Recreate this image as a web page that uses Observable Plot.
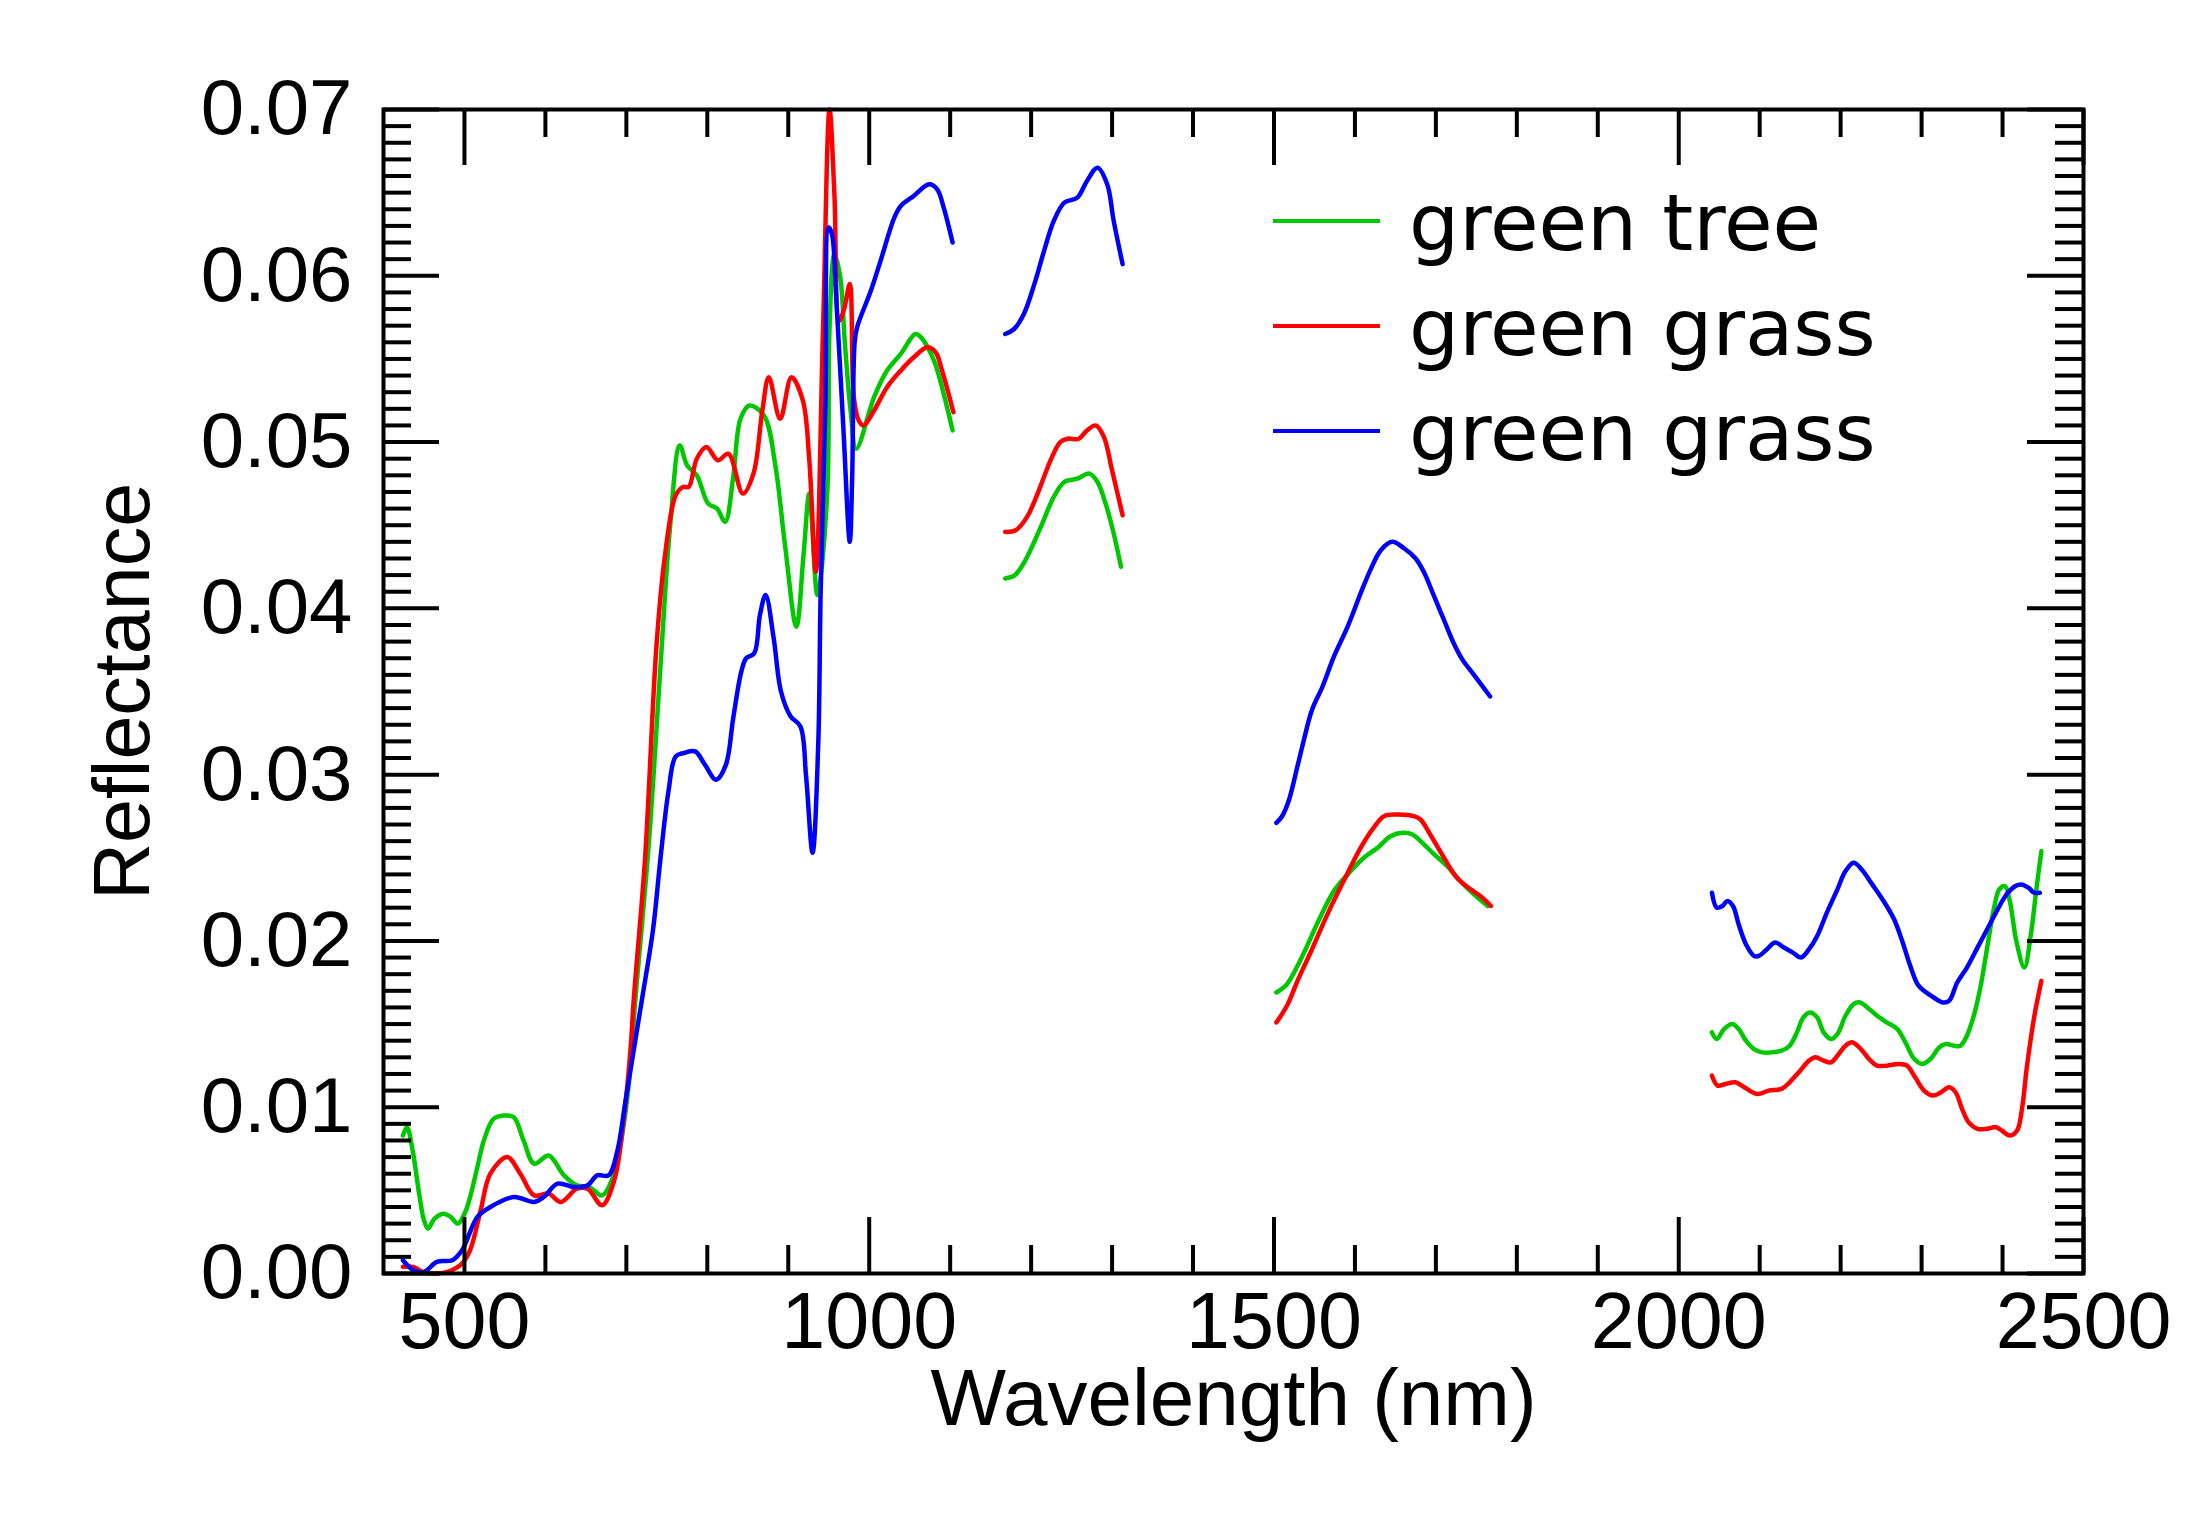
<!DOCTYPE html>
<html>
<head>
<meta charset="utf-8">
<script src="https://cdn.jsdelivr.net/npm/d3@7"></script>
<script src="https://cdn.jsdelivr.net/npm/@observablehq/plot@0.6"></script>
<style>
  html, body { margin: 0; padding: 0; background: #fff; }
  #chart { position: relative; width: 2204px; height: 1515px; }
  #chart svg.legend { position: absolute; left: 0; top: 0; pointer-events: none; }
</style>
</head>
<body>
<div id="chart"></div>
<script>
// Reflectance spectra, [wavelength nm, reflectance]; null marks a water-absorption gap.
const greenTree = [
  [424,0.0083],[429,0.0088],[436,0.0074],[444,0.0048],[450,0.0032],[455,0.0027],[463,0.0033],[474,0.0036],
  [483,0.0034],[492,0.0030],[501,0.0037],[507,0.0046],[516,0.0064],[524,0.0080],[536,0.0093],[549,0.0095],
  [561,0.0094],[573,0.0080],[586,0.0066],[604,0.0071],[623,0.0059],[639,0.0053],[654,0.0052],[670,0.0047],
  [685,0.0060],[695,0.0084],[703,0.0114],[711,0.0164],[728,0.0260],[742,0.0364],[754,0.0449],[766,0.0498],
  [775,0.0486],[787,0.0480],[801,0.0463],[812,0.0460],[822,0.0452],[832,0.0479],[841,0.0514],[852,0.0522],
  [870,0.0516],[884,0.0486],[896,0.0438],[910,0.0389],[919,0.0433],[926,0.0469],[936,0.0408],[948,0.0468],
  [951,0.0569],[957,0.0613],[964,0.0600],[970,0.0559],[977,0.0519],[984,0.0496],[1006,0.0527],[1022,0.0543],
  [1039,0.0553],[1057,0.0565],[1064,0.0563],[1080,0.0549],[1092,0.0529],[1103,0.0507],
  null,
  [1168,0.0418],[1180,0.0420],[1193,0.0429],[1212,0.0449],[1228,0.0467],[1241,0.0476],[1257,0.0478],
  [1272,0.0481],[1282,0.0476],[1292,0.0463],[1302,0.0445],[1311,0.0425],
  null,
  [1503,0.0169],[1516,0.0174],[1528,0.0184],[1539,0.0195],[1553,0.0210],[1574,0.0230],[1591,0.0240],
  [1611,0.0250],[1628,0.0256],[1644,0.0263],[1659,0.0265],[1671,0.0264],[1681,0.0260],[1698,0.0252],
  [1714,0.0245],[1730,0.0236],[1747,0.0228],[1764,0.0221],
  null,
  [2041,0.0145],[2047,0.0141],[2056,0.0147],[2066,0.0150],[2074,0.0147],[2083,0.0140],[2093,0.0135],
  [2103,0.0133],[2115,0.0133],[2127,0.0134],[2137,0.0137],[2146,0.0145],[2154,0.0154],[2162,0.0157],
  [2171,0.0154],[2179,0.0145],[2188,0.0141],[2196,0.0144],[2206,0.0155],[2216,0.0162],[2224,0.0163],
  [2233,0.0160],[2245,0.0155],[2257,0.0151],[2270,0.0147],[2280,0.0139],[2291,0.0129],[2301,0.0126],
  [2311,0.0129],[2322,0.0136],[2330,0.0138],[2340,0.0137],[2348,0.0137],[2356,0.0143],[2365,0.0156],
  [2373,0.0173],[2381,0.0196],[2390,0.0221],[2396,0.0231],[2403,0.0233],[2409,0.0224],[2417,0.0200],
  [2427,0.0184],[2435,0.0204],[2442,0.0232],[2448,0.0254]
];

const greenGrassA = [
  [424,0.0004],[437,0.0004],[448,0.0001],[462,0.0000],[479,0.0001],[497,0.0006],[507,0.0014],[520,0.0038],
  [532,0.0060],[553,0.0070],[569,0.0060],[586,0.0047],[604,0.0048],[619,0.0043],[639,0.0051],[652,0.0051],
  [670,0.0041],[685,0.0056],[697,0.0094],[705,0.0134],[709,0.0164],[723,0.0249],[737,0.0376],[747,0.0429],
  [761,0.0468],[770,0.0473],[777,0.0473],[787,0.0490],[799,0.0497],[813,0.0489],[826,0.0493],[844,0.0469],
  [857,0.0481],[868,0.0519],[876,0.0539],[890,0.0514],[904,0.0539],[918,0.0525],[926,0.0489],[934,0.0422],
  [943,0.0569],[951,0.0700],[957,0.0649],[963,0.0573],[969,0.0580],[976,0.0595],[981,0.0527],[987,0.0513],
  [993,0.0510],[1006,0.0519],[1022,0.0533],[1039,0.0543],[1055,0.0551],[1072,0.0557],[1082,0.0554],
  [1090,0.0543],[1104,0.0518],
  null,
  [1168,0.0446],[1181,0.0447],[1195,0.0455],[1208,0.0469],[1224,0.0489],[1236,0.0500],[1245,0.0502],
  [1259,0.0502],[1269,0.0507],[1280,0.0510],[1290,0.0503],[1300,0.0483],[1313,0.0456],
  null,
  [1503,0.0151],[1516,0.0161],[1530,0.0177],[1547,0.0195],[1566,0.0216],[1586,0.0236],[1607,0.0256],
  [1623,0.0268],[1636,0.0275],[1652,0.0276],[1673,0.0275],[1681,0.0273],[1693,0.0264],[1710,0.0250],
  [1726,0.0238],[1743,0.0231],[1755,0.0227],[1768,0.0221],
  null,
  [2041,0.0119],[2048,0.0113],[2058,0.0114],[2070,0.0115],[2081,0.0112],[2097,0.0108],[2111,0.0110],
  [2127,0.0111],[2137,0.0115],[2150,0.0122],[2161,0.0128],[2169,0.0130],[2179,0.0128],[2188,0.0127],
  [2196,0.0131],[2206,0.0137],[2214,0.0139],[2225,0.0135],[2235,0.0129],[2245,0.0125],[2257,0.0125],
  [2272,0.0126],[2282,0.0125],[2292,0.0118],[2303,0.0110],[2314,0.0107],[2324,0.0109],[2334,0.0112],
  [2342,0.0109],[2350,0.0099],[2358,0.0091],[2369,0.0087],[2381,0.0087],[2392,0.0088],[2399,0.0086],
  [2409,0.0083],[2418,0.0086],[2424,0.0099],[2430,0.0124],[2439,0.0154],[2448,0.0176]
];

const greenGrassB = [
  [424,0.0008],[437,0.0002],[450,0.0001],[466,0.0007],[485,0.0008],[497,0.0014],[516,0.0034],[532,0.0040],
  [561,0.0046],[586,0.0043],[598,0.0046],[615,0.0054],[635,0.0052],[652,0.0053],[664,0.0059],[678,0.0059],
  [689,0.0074],[699,0.0104],[709,0.0134],[719,0.0164],[733,0.0207],[742,0.0249],[752,0.0290],[761,0.0311],
  [771,0.0313],[785,0.0314],[797,0.0306],[811,0.0297],[823,0.0306],[832,0.0334],[842,0.0362],[848,0.0370],
  [858,0.0373],[865,0.0396],[872,0.0408],[882,0.0382],[891,0.0350],[903,0.0335],[915,0.0329],[922,0.0299],
  [930,0.0253],[937,0.0318],[940,0.0410],[946,0.0525],[950,0.0629],[954,0.0625],[959,0.0589],[968,0.0509],
  [976,0.0440],[979,0.0480],[982,0.0560],[985,0.0569],[1002,0.0591],[1014,0.0609],[1031,0.0635],
  [1039,0.0642],[1055,0.0648],[1074,0.0655],[1084,0.0652],[1092,0.0641],[1103,0.0620],
  null,
  [1168,0.0565],[1179,0.0568],[1191,0.0577],[1204,0.0595],[1216,0.0615],[1228,0.0633],[1241,0.0644],
  [1257,0.0647],[1269,0.0657],[1282,0.0665],[1294,0.0655],[1302,0.0633],[1313,0.0607],
  null,
  [1503,0.0271],[1510,0.0275],[1518,0.0284],[1529,0.0305],[1537,0.0321],[1547,0.0339],[1560,0.0353],
  [1574,0.0371],[1591,0.0389],[1607,0.0409],[1619,0.0423],[1632,0.0435],[1646,0.0440],[1661,0.0436],
  [1675,0.0430],[1685,0.0422],[1698,0.0407],[1710,0.0393],[1722,0.0379],[1733,0.0369],[1747,0.0360],
  [1767,0.0347],
  null,
  [2041,0.0229],[2047,0.0220],[2054,0.0221],[2060,0.0224],[2067,0.0221],[2074,0.0210],[2083,0.0198],
  [2093,0.0191],[2099,0.0191],[2109,0.0195],[2119,0.0199],[2130,0.0196],[2141,0.0193],[2151,0.0190],
  [2161,0.0195],[2171,0.0203],[2183,0.0217],[2196,0.0231],[2206,0.0242],[2216,0.0247],[2226,0.0243],
  [2239,0.0234],[2253,0.0224],[2266,0.0213],[2276,0.0200],[2286,0.0185],[2295,0.0174],[2303,0.0170],
  [2315,0.0166],[2326,0.0163],[2334,0.0164],[2344,0.0175],[2356,0.0184],[2369,0.0196],[2381,0.0207],
  [2394,0.0219],[2405,0.0228],[2416,0.0233],[2423,0.0234],[2432,0.0232],[2439,0.0229],[2446,0.0229]
];

const seriesNames  = ["green tree", "green grass", "green grass"];
const seriesColors = ["rgb(0,200,0)", "rgb(255,0,0)", "rgb(0,0,255)"];
const seriesData   = [greenTree, greenGrassA, greenGrassB];

// Axis ticks
const xMajorTicks = [500, 1000, 1500, 2000, 2500];
const xMinorTicks = [600, 700, 800, 900, 1100, 1200, 1300, 1400, 1600, 1700, 1800, 1900, 2100, 2200, 2300, 2400];
const yMajorTicks = [0, 0.01, 0.02, 0.03, 0.04, 0.05, 0.06, 0.07];
const yMinorTicks = d3.range(1, 70).filter(i => i % 10 !== 0).map(i => i / 1000);

// Layout
const width = 2204, height = 1515;
const margin = {top: 109, right: 121, bottom: 242, left: 383};
const innerW = width - margin.left - margin.right;
const innerH = height - margin.top - margin.bottom;
const majorLen = 56, minorLen = 28, axisStroke = 4;
const textFont = "'Liberation Sans', Arial, Helvetica, sans-serif";

const toRows = (pairs) => pairs.map(p => p
  ? {wavelength: p[0], reflectance: p[1]}
  : {wavelength: NaN, reflectance: NaN});

// Inward ticks on all four sides of the frame
const tickStyle = {stroke: "black", strokeWidth: axisStroke};
const frameTicks = [
  Plot.tickX(xMajorTicks, {x: d => d, insetTop: innerH - majorLen, ...tickStyle}),
  Plot.tickX(xMajorTicks, {x: d => d, insetBottom: innerH - majorLen, ...tickStyle}),
  Plot.tickX(xMinorTicks, {x: d => d, insetTop: innerH - minorLen, ...tickStyle}),
  Plot.tickX(xMinorTicks, {x: d => d, insetBottom: innerH - minorLen, ...tickStyle}),
  Plot.tickY(yMajorTicks, {y: d => d, insetRight: innerW - majorLen, ...tickStyle}),
  Plot.tickY(yMajorTicks, {y: d => d, insetLeft: innerW - majorLen, ...tickStyle}),
  Plot.tickY(yMinorTicks, {y: d => d, insetRight: innerW - minorLen, ...tickStyle}),
  Plot.tickY(yMinorTicks, {y: d => d, insetLeft: innerW - minorLen, ...tickStyle})
];

const lines = seriesData.map((pairs, i) =>
  Plot.line(toRows(pairs), {
    x: "wavelength",
    y: "reflectance",
    stroke: seriesColors[i],
    strokeWidth: 4.5,
    curve: "catmull-rom",
    strokeLinejoin: "round"
  })
);

const chart = Plot.plot({
  width, height,
  marginTop: margin.top, marginRight: margin.right,
  marginBottom: margin.bottom, marginLeft: margin.left,
  x: {domain: [400, 2500]},
  y: {domain: [0, 0.07]},
  style: {fontFamily: textFont, color: "black", background: "white", overflow: "visible"},
  marks: [
    ...lines,
    ...frameTicks,
    Plot.frame({stroke: "black", strokeWidth: axisStroke}),
    Plot.axisX({ticks: xMajorTicks, tickSize: 0, tickPadding: 18, tickFormat: d => `${d}`,
                fontSize: 79, label: null}),
    Plot.axisY({ticks: yMajorTicks, tickSize: 0, tickPadding: 31, tickFormat: d3.format(".2f"),
                fontSize: 78, label: null}),
    Plot.text(["Wavelength (nm)"], {text: d => d, frameAnchor: "bottom", dy: 151,
                textAnchor: "middle", lineAnchor: "bottom", fontSize: 80, fill: "black"}),
    Plot.text(["Reflectance"], {text: d => d, frameAnchor: "left", dx: -235, rotate: -90,
                textAnchor: "middle", lineAnchor: "bottom", fontSize: 79, fill: "black"})
  ]
});

const container = document.getElementById("chart");
container.appendChild(chart);

// Legend drawn over the upper right part of the frame
const legend = d3.create("svg")
  .attr("class", "legend")
  .attr("width", width)
  .attr("height", height);

const legendX = margin.left + 890, legendY = margin.top + 112, rowStep = 105;
const rows = legend.selectAll("g")
  .data(seriesNames)
  .join("g")
  .attr("transform", (d, i) => `translate(${legendX},${legendY + i * rowStep})`);

rows.append("line")
  .attr("x1", 0).attr("x2", 107)
  .attr("y1", 0).attr("y2", 0)
  .attr("stroke", (d, i) => seriesColors[i])
  .attr("stroke-width", 4);

rows.append("text")
  .attr("x", 136)
  .attr("y", 29)
  .attr("font-family", "'DejaVu Sans', sans-serif")
  .attr("font-size", 79)
  .attr("fill", "black")
  .text(d => d);

container.appendChild(legend.node());
</script>
</body>
</html>
